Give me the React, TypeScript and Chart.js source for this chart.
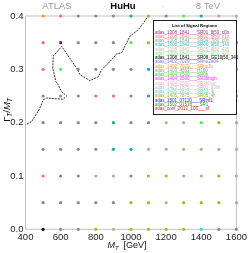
import React, { useEffect, useRef } from "react";
import { Chart, registerables } from "chart.js";

Chart.register(...registerables);

const FONT = "'Liberation Sans', Arial, sans-serif";

// Grid of signal-region points
const massValues = [500, 600, 700, 800, 900, 1000, 1100, 1200, 1300, 1400, 1500, 1600];
const widthValues = [0.4, 0.35, 0.3, 0.25, 0.2, 0.15, 0.1, 0.05, 0.0];
// colour keys per row (same order as widthValues), per column (massValues)
const row040 = ["o", "r", "g", "g", "g", "t", "y", "g", "G", "t", "n", "n"];
const row035 = ["r", "p", "g", "g", "g", "G", "y", "g", "g", "g", "g", "t"];
const row030 = ["r", "G", "g", "g", "g", "g", "t", "g", "g", "g", "g", "n"];
const row025 = ["g", "g", "g", "r", "r", "g", "t", "g", "g", "g", "g", "n"];
const row020 = ["g", "g", "g", "g", "t", "g", "g", "n", "n", "G", "y", "n"];
const row015 = ["g", "g", "g", "g", "t", "t", "n", "n", "n", "n", "n", "n"];
const row010 = ["r", "g", "g", "n", "n", "g", "y", "y", "n", "n", "y", "n"];
const row005 = ["g", "g", "g", "g", "g", "y", "y", "n", "y", "y", "y", "n"];
const row000 = ["k", "g", "g", "y", "n", "y", "y", "y", "y", "c", "g", "g"];
const colorRows = [row040, row035, row030, row025, row020, row015, row010, row005, row000];
const colorKey: Record<string, string> = {
  g: "#8a8a8a",
  r: "#ff6a6a",
  o: "#ff8c1a",
  t: "#1aa8a8",
  y: "#b4b41a",
  G: "#4cf04c",
  p: "#8a008a",
  n: "#d2a484",
  k: "#000000",
  c: "#30dcdc",
};

// Exclusion contour
const contourMass = [1100, 1073, 1041, 994, 947, 918, 890, 833, 814, 766, 710, 691, 606, 558, 555, 573, 586, 606, 634, 615, 520, 501, 482, 435, 400];
const contourWidth = [0.401, 0.388, 0.374, 0.362, 0.331, 0.329, 0.318, 0.299, 0.286, 0.279, 0.29, 0.302, 0.343, 0.325, 0.302, 0.277, 0.271, 0.258, 0.25, 0.244, 0.246, 0.243, 0.227, 0.202, 0.196];

// Legend
const legendLabels = [
  "atlas_1308_1841___SR01_8j50_c0b",
  "atlas_1308_1841___SR02_8j50_c1b",
  "atlas_1308_1841___SR04_7j80_c0b",
  "atlas_1308_1841___SR06_9j50_340",
  "atlas_1308_1841___SR05_8j50_420",
  "atlas_1308_1841___SR07_9j50_420",
  "atlas_1308_1841___SR08_GE10j50_340",
  "atlas_1402_7029___SRnoZa04",
  "atlas_1402_7029___SRnoZc",
  "atlas_1403_4853___H160",
  "atlas_1404_2500___SR0b",
  "atlas_1404_2500___SR3bhigh",
  "atlas_1404_2500___SR3blow",
  "atlas_1405_7875___SR01_03W",
  "atlas_1405_7875___SR03_4j",
  "atlas_1405_7875___SR05_4jt",
  "atlas_1501_07110___SRinf1",
  "atlas_1502_01518___SR1",
  "atlas_conf_2013_106___sf",
];
const legendColors = [
  "#993399", "#ff7f7f", "#9a9a9a", "#2ec4c4", "#d8b4b4", "#86ee86", "#000000",
  "#7777ff", "#ff9933", "#9a9a9a", "#33dd33", "#ff33ff", "#ffaacc", "#bbbbbb",
  "#55dddd", "#aaaa22", "#2222ee", "#229922", "#ee2222",
];

const xTicks = [400, 600, 800, 1000, 1200, 1400, 1600];
const yTicks = [0.0, 0.1, 0.2, 0.3, 0.4];

const decorPlugin = {
  id: "decor",
  beforeDatasetsDraw(chart: any) {
    const { ctx, chartArea: a } = chart;
    ctx.save();
    ctx.strokeStyle = "#c4c4c4";
    ctx.lineWidth = 1;
    ctx.strokeRect(a.left, a.top, a.right - a.left, a.bottom - a.top);
    ctx.restore();
  },
  afterDatasetsDraw(chart: any) {
    const { ctx } = chart;
    // legend box
    const bx = 153, by = 20, bw = 83, bh = 94;
    ctx.save();
    ctx.fillStyle = "#ffffff";
    ctx.fillRect(bx, by, bw, bh);
    ctx.strokeStyle = "#222";
    ctx.lineWidth = 1;
    ctx.strokeRect(bx + 0.5, by + 0.5, bw, bh);
    ctx.fillStyle = "#000";
    ctx.font = `bold 4.3px ${FONT}`;
    ctx.textAlign = "center";
    ctx.textBaseline = "alphabetic";
    ctx.fillText("List of Signal Regions", bx + bw / 2, by + 6.5);
    ctx.textAlign = "left";
    ctx.font = `4.5px ${FONT}`;
    legendLabels.forEach((lab, i) => {
      ctx.fillStyle = legendColors[i];
      ctx.fillText(lab, bx + 2, by + 13.5 + i * 4.25);
    });
    ctx.restore();
  },
  afterDraw(chart: any) {
    const { ctx, chartArea: a } = chart;
    ctx.save();
    ctx.textBaseline = "alphabetic";
    ctx.textAlign = "center";
    ctx.font = `9.5px ${FONT}`;
    ctx.fillStyle = "#9a9a9a";
    ctx.fillText("ATLAS", 57, 9);
    ctx.fillText("8 TeV", 208, 9);
    ctx.fillStyle = "#c8c8c8";
    ctx.fillText("·", 105, 9);
    ctx.fillText("·", 163, 9);
    ctx.fillStyle = "#000";
    ctx.font = `bold 9.5px ${FONT}`;
    ctx.fillText("HuHu", 123, 9);

    // x-axis title: M_T [GeV]
    const drawParts = (parts: { t: string; f: string; dy: number }[], x0: number, y0: number) => {
      let x = x0;
      parts.forEach((p) => {
        ctx.font = p.f;
        ctx.textAlign = "left";
        ctx.fillText(p.t, x, y0 + p.dy);
        x += ctx.measureText(p.t).width;
      });
    };
    const measure = (parts: { t: string; f: string; dy: number }[]) =>
      parts.reduce((s, p) => {
        ctx.font = p.f;
        return s + ctx.measureText(p.t).width;
      }, 0);
    ctx.fillStyle = "#111";
    const xParts = [
      { t: "M", f: `italic 9px ${FONT}`, dy: 0 },
      { t: "T", f: `italic 6px ${FONT}`, dy: 2 },
      { t: "  [GeV]", f: `9px ${FONT}`, dy: 0 },
    ];
    const xw = measure(xParts);
    drawParts(xParts, (a.left + a.right) / 2 - 4 - xw / 2, 248);

    // y-axis title: Γ_T / M_T
    const yParts = [
      { t: "Γ", f: `9.5px ${FONT}`, dy: 0 },
      { t: "T", f: `italic 6.5px ${FONT}`, dy: 2 },
      { t: "/", f: `9.5px ${FONT}`, dy: 0 },
      { t: "M", f: `italic 9.5px ${FONT}`, dy: 0 },
      { t: "T", f: `italic 6.5px ${FONT}`, dy: 2 },
    ];
    const yw = measure(yParts);
    ctx.translate(10, 110);
    ctx.rotate(-Math.PI / 2);
    drawParts(yParts, -yw / 2, 0);
    ctx.restore();
  },
};

export default function App() {
  const ref = useRef<HTMLCanvasElement>(null);
  useEffect(() => {
    document.body.style.margin = "0";
    const pts: { x: number; y: number }[] = [];
    const cols: string[] = [];
    widthValues.forEach((w, r) => {
      massValues.forEach((m, c) => {
        pts.push({ x: m, y: w });
        cols.push(colorKey[colorRows[r][c]]);
      });
    });
    const contour = contourMass.map((m, i) => ({ x: m, y: contourWidth[i] }));
    const chart = new Chart(ref.current!, {
      type: "scatter",
      data: {
        datasets: [
          {
            data: pts,
            pointBackgroundColor: cols,
            pointBorderWidth: 0,
            pointRadius: 1.6,
            clip: false,
          } as any,
          {
            data: contour,
            showLine: true,
            borderColor: "#333",
            borderWidth: 1,
            borderDash: [2, 1],
            pointRadius: 0,
            fill: false,
          } as any,
        ],
      },
      plugins: [decorPlugin],
      options: {
        animation: false,
        responsive: false,
        events: [],
        layout: { padding: { top: 16, right: 12, left: 0, bottom: 0 } },
        plugins: { legend: { display: false }, tooltip: { enabled: false }, title: { display: false } },
        scales: {
          x: {
            type: "linear",
            min: 400,
            max: 1600,
            afterBuildTicks: (axis: any) => {
              axis.ticks = xTicks.map((v) => ({ value: v }));
            },
            afterFit: (axis: any) => {
              axis.height = 23.7;
            },
            grid: { display: false, drawTicks: false },
            border: { display: false },
            ticks: {
              padding: 2,
              maxRotation: 0,
              autoSkip: false,
              color: "#222",
              font: { family: FONT, size: 9.5 },
              callback: (v: any) => String(v),
            },
          },
          y: {
            type: "linear",
            min: 0,
            max: 0.4,
            afterBuildTicks: (axis: any) => {
              axis.ticks = yTicks.map((v) => ({ value: v }));
            },
            afterFit: (axis: any) => {
              axis.width = 25.5;
            },
            grid: { display: false, drawTicks: false },
            border: { display: false },
            ticks: {
              padding: 2,
              autoSkip: false,
              color: "#222",
              font: { family: FONT, size: 9.5 },
              callback: (v: any) => Number(v).toFixed(1),
            },
          },
        },
      } as any,
    });
    return () => chart.destroy();
  }, []);
  return <canvas ref={ref} width={249} height={253} style={{ display: "block" }} />;
}
